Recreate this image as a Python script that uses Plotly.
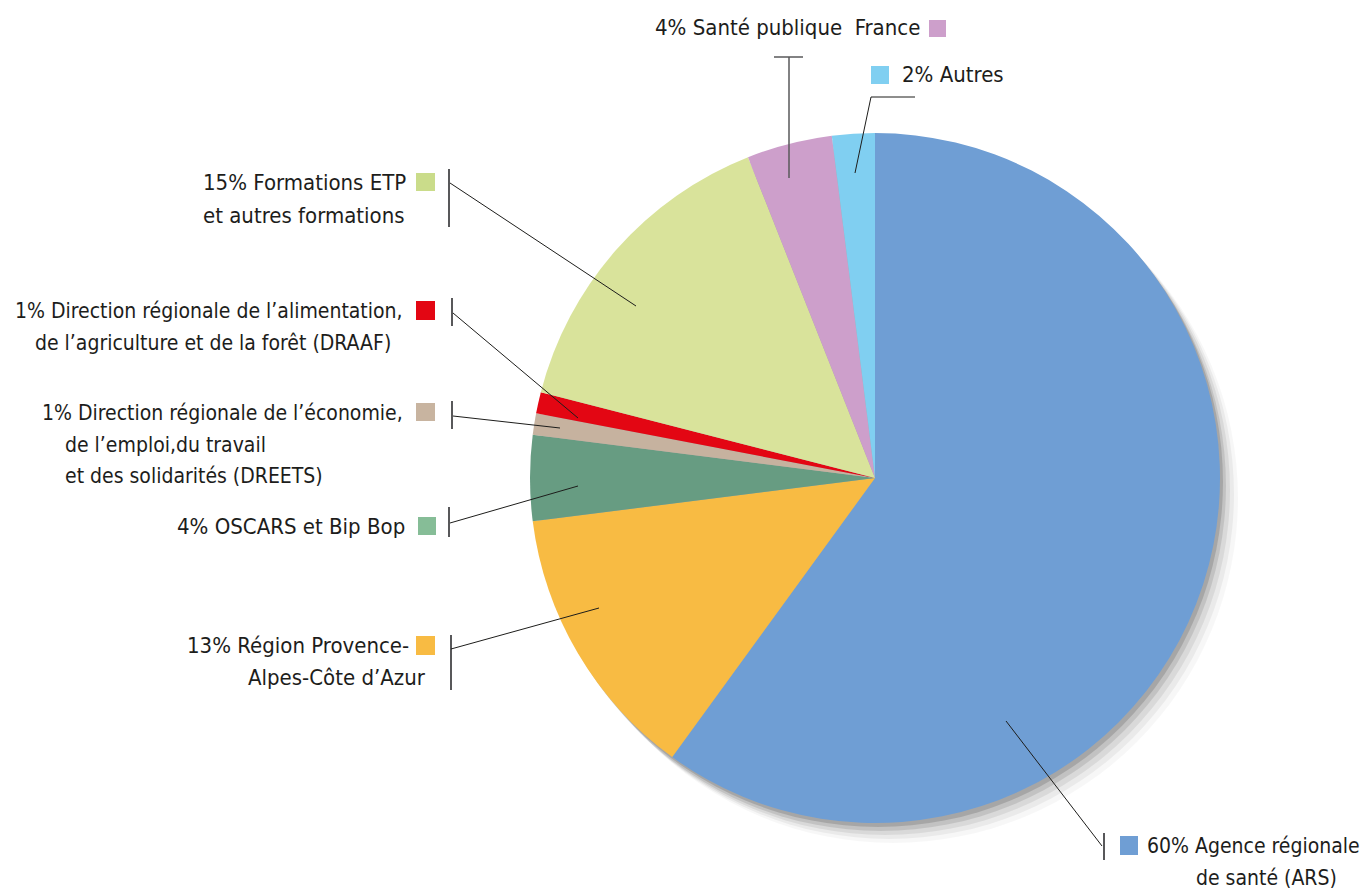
import plotly.graph_objects as go

W, H = 1370, 890

# ---- data ----
categories = [
    "Agence régionale de santé (ARS)",
    "Région Provence-Alpes-Côte d'Azur",
    "OSCARS et Bip Bop",
    "DREETS",
    "DRAAF",
    "Formations ETP et autres formations",
    "Santé publique France",
    "Autres",
]
values = [60, 13, 4, 1, 1, 15, 4, 2]
colors = ["#6f9ed4", "#f8bb43", "#679c82", "#c6b29f", "#e30613", "#d9e39b", "#cd9fcb", "#80cff1"]
square_colors = ["#6f9ed4", "#f8bb43", "#86bd97", "#c8b4a0", "#e30613", "#cadc8a", "#cd9fcb", "#80cff1"]

label_lines = [
    ["60% Agence régionale", "de santé (ARS)"],
    ["13% Région Provence-", "Alpes-Côte d’Azur"],
    ["4% OSCARS et Bip Bop"],
    ["1% Direction régionale de l’économie,", "de l’emploi,du travail", "et des solidarités (DREETS)"],
    ["1% Direction régionale de l’alimentation,", "de l’agriculture et de la forêt (DRAAF)"],
    ["15% Formations ETP", "et autres formations"],
    ["4% Santé publique  France"],
    ["2% Autres"],
]

FONT = "Liberation Sans Narrow, DejaVu Sans Condensed, Arial Narrow, sans-serif"
FS = 22
TXT = "#1d1d1b"

def X(px):
    return px / W

def Y(py):
    return 1 - py / H

# pie geometry (pixels)
cx, cy, r = 875, 478, 345

fig = go.Figure()

# soft drop shadow layers
for dx, dy, a in [(18, 20, 0.03), (14, 16, 0.05), (10, 12, 0.07), (6, 8, 0.1), (3, 4, 0.14)]:
    fig.add_trace(go.Pie(
        values=[1], marker=dict(colors=[f"rgba(0,0,0,{a})"], line=dict(width=0)),
        textinfo="none", hoverinfo="skip", sort=False, showlegend=False,
        domain=dict(x=[X(cx - r + dx), X(cx + r + dx)], y=[Y(cy + r + dy), Y(cy - r + dy)]),
    ))

fig.add_trace(go.Pie(
    labels=categories, values=values, sort=False, direction="clockwise", rotation=0,
    marker=dict(colors=colors, line=dict(width=0)),
    textinfo="none", showlegend=False,
    domain=dict(x=[X(cx - r), X(cx + r)], y=[Y(cy + r), Y(cy - r)]),
))

shapes = []
annotations = []

def line(x0, y0, x1, y1, color="#1d1d1b", width=1):
    shapes.append(dict(type="line", xref="paper", yref="paper",
                       x0=X(x0), y0=Y(y0), x1=X(x1), y1=Y(y1),
                       line=dict(color=color, width=width)))

def square(x0, y0, x1, y1, color):
    shapes.append(dict(type="rect", xref="paper", yref="paper",
                       x0=X(x0), y0=Y(y0), x1=X(x1), y1=Y(y1),
                       fillcolor=color, line=dict(width=0)))

def text(s, x, y, anchor, size=FS):
    annotations.append(dict(text=s, xref="paper", yref="paper", x=X(x), y=Y(y),
                            xanchor=anchor, yanchor="middle", showarrow=False,
                            font=dict(family=FONT, size=size, color=TXT)))

BAR = "#58585a"
# ARS
square(1120, 836, 1138, 855, square_colors[0])
text(label_lines[0][0], 1362, 846, "right", 21)
text(label_lines[0][1], 1339, 878, "right", 21)
line(1104, 833, 1104, 860, BAR, 2)
line(1102, 846, 1006, 721)
# Région
square(416, 636, 435, 655, square_colors[1])
text(label_lines[1][0], 411, 645, "right")
text(label_lines[1][1], 428, 677, "right")
line(451, 635, 451, 690, BAR, 2)
line(451, 649, 599, 608)
# OSCARS
square(418, 517, 436, 535, square_colors[2])
text(label_lines[2][0], 407, 526, "right")
line(449, 507, 449, 537, BAR, 2)
line(450, 523, 578, 486)
# DREETS
square(416, 403, 435, 421, square_colors[3])
text(label_lines[3][0], 405, 413, "right", 21)
text(label_lines[3][1], 63, 445, "left", 21)
text(label_lines[3][2], 63, 476, "left", 21)
line(452, 401, 452, 429, BAR, 2)
line(453, 416, 560, 428)
# DRAAF
square(416, 301, 435, 320, square_colors[4])
text(label_lines[4][0], 405, 311, "right", 21)
text(label_lines[4][1], 33, 343, "left", 21)
line(452, 298, 452, 326, BAR, 2)
line(453, 313, 578, 418)
# Formations
square(416, 173, 435, 191, square_colors[5])
text(label_lines[5][0], 408, 183, "right")
text(label_lines[5][1], 407, 215, "right")
line(449, 169, 449, 227, BAR, 2)
line(450, 183, 636, 306)
# Santé publique France
square(929, 20, 946, 37, square_colors[6])
text(label_lines[6][0], 922, 28, "right")
line(774, 57, 803, 57, BAR, 1.5)
line(789, 57, 789, 178, BAR, 1.5)
# Autres
square(871, 66, 889, 84, square_colors[7])
text(label_lines[7][0], 900, 75, "left")
line(871, 97, 915, 97, "#1d1d1b", 1)
line(871, 97, 855, 173)

fig.update_layout(
    width=W, height=H,
    margin=dict(l=0, r=0, t=0, b=0),
    paper_bgcolor="white", plot_bgcolor="white",
    shapes=shapes, annotations=annotations,
    showlegend=False,
)

fig.write_html(
    "out.html",
    config={"displayModeBar": False},
    post_script="document.body.style.margin='0';document.body.style.overflow='hidden';",
)
